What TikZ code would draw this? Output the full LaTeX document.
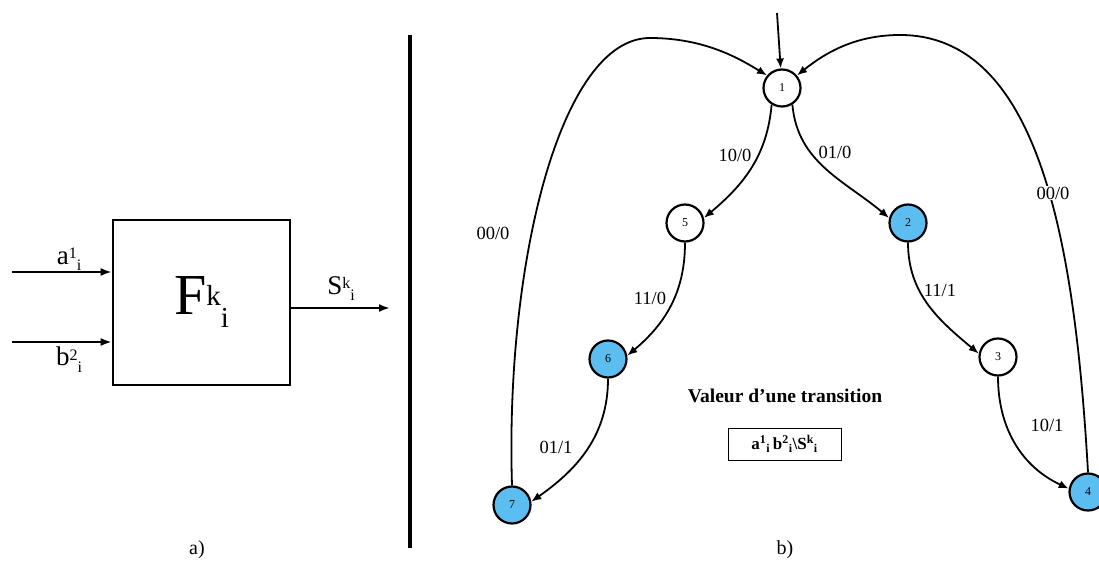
\documentclass[tikz,border=0pt]{standalone}
\usepackage{fontspec}
\setmainfont{Liberation Serif}
\usetikzlibrary{arrows.meta}
\definecolor{stateblue}{RGB}{92,190,240}
% index on a signal name: base, sup, sub
\newcommand{\sigidx}[3]{#1\raisebox{6pt}{\fontsize{16}{18}\selectfont #2}\raisebox{-6pt}{\fontsize{16}{18}\selectfont #3}}
\tikzset{
  state/.style={circle,draw,line width=2.2pt,minimum size=37pt,inner sep=0pt,font=\fontsize{12}{14}\selectfont},
  final/.style={state,fill=stateblue},
  trans/.style={line width=1.8pt,-{Latex[length=10pt,width=8pt]}},
  sig/.style={line width=2pt,-{Latex[length=11pt,width=8pt]}},
  lbl/.style={font=\fontsize{18.5}{22}\selectfont,inner sep=1pt},
  signame/.style={font=\fontsize{27}{30}\selectfont,anchor=base,inner sep=0pt},
}
\begin{document}
\begin{tikzpicture}[x=1pt,y=1pt]
\useasboundingbox (0,0) rectangle (1099,565);

% a) the block
\node[draw,line width=2.6pt,minimum width=177pt,minimum height=165pt] (blk) at (201.5,262.5)
  {\fontsize{58}{60}\selectfont F\raisebox{9pt}{\fontsize{29}{30}\selectfont k}\raisebox{-13pt}{\fontsize{29}{30}\selectfont i}};
\coordinate (ain) at (12,293);
\coordinate (bin) at (12,223);
\coordinate (sout) at (390,257);
\draw[sig] (ain) -- (ain -| blk.west);
\draw[sig] (bin) -- (bin -| blk.west);
\draw[sig] (blk.east |- sout) -- (sout);
\node[signame] (alab) at (69,300) {\sigidx{a}{1}{i}};
\node[signame] (blab) at (69,199) {\sigidx{b}{2}{i}};
\node[signame] (slab) at (341,270) {\sigidx{S}{k}{i}};
\node[font=\fontsize{20}{24}\selectfont] (capa) at (197,15) {a)};

% separator
\draw[line width=3.5pt] (410,17) -- (410,530);

% b) the automaton
\node[state] (n1) at (782,477) {1};
\node[state] (n5) at (685,342) {5};
\node[final] (n2) at (908,342) {2};
\node[final] (n6) at (608,206) {6};
\node[state] (n3) at (998,208) {3};
\node[final] (n7) at (512,60) {7};
\node[final] (n4) at (1088,73) {4};

\coordinate (init) at (777,552);
\draw[trans] (init) -- (n1);

\draw[trans] (n1.238) to[out=-95,in=40] (n5.15);
\draw[trans] (n1.302) to[out=-85,in=140] (n2.165);
\draw[trans] (n5.south) to[out=-90,in=40] (n6.10);
\draw[trans] (n2.south) to[out=-90,in=140] (n3.170);
\draw[trans] (n6.south) to[out=-90,in=35] (n7.10);
\draw[trans] (n3.south) to[out=-90,in=155] (n4.170);
\draw[trans] (n7.north) .. controls (505,300) and (560,527) .. (650,527)
  .. controls (705,527) and (740,506) .. (n1.140);
\draw[trans] (n4.north) .. controls (1075,320) and (1040,530) .. (900,530)
  .. controls (855,530) and (825,512) .. (n1.40);

\node[lbl] at (735,410) {10/0};
\node[lbl] at (835,413) {01/0};
\node[lbl] at (650,267) {11/0};
\node[lbl] at (940,275) {11/1};
\node[lbl] at (556,118) {01/1};
\node[lbl] at (1047,140) {10/1};
\node[lbl] at (493,332) {00/0};
\node[lbl,fill=white] at (1053,372) {00/0};

% legend
\node[font=\bfseries\fontsize{19.5}{22}\selectfont] (vt) at (785,169) {Valeur d'une transition};
\node[draw,line width=1pt,minimum width=113pt,minimum height=32pt] (ex) at (784.5,121)
  {\bfseries\fontsize{17}{20}\selectfont a\textsuperscript{1}\textsubscript{i}\,b\textsuperscript{2}\textsubscript{i}\textbackslash S\textsuperscript{k}\textsubscript{i}};
\node[font=\fontsize{20}{24}\selectfont] (capb) at (785,15) {b)};
\end{tikzpicture}
\end{document}
